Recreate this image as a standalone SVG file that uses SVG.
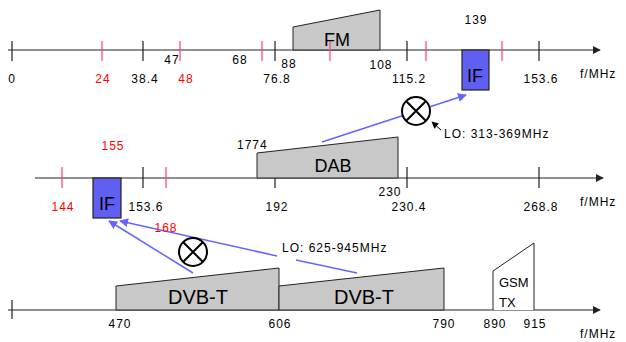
<svg xmlns="http://www.w3.org/2000/svg" width="626" height="342" viewBox="0 0 626 342">
<style>
text{font-family:"Liberation Sans",Arial,sans-serif;font-size:12px;letter-spacing:1px;fill:#000}
.r{fill:#ff0000}
.m{text-anchor:middle}
.big{font-size:18px;letter-spacing:0}
.axis{stroke:#222;stroke-width:1.2;fill:none}
.tk{stroke:#222;stroke-width:1.2}
.pk{stroke:#ff3c82;stroke-width:1.2}
.band{fill:#c8c8c8;stroke:#222;stroke-width:1}
.if{fill:#5f5ff2;stroke:#222;stroke-width:1.2}
.blue{stroke:#6464ff;stroke-width:1.5;fill:none}
.mix{fill:#fff;stroke:#000;stroke-width:2}
</style>
<defs>
<marker id="ah" viewBox="0 0 10 10" refX="9" refY="5" markerWidth="8" markerHeight="8" orient="auto" markerUnits="userSpaceOnUse"><path d="M0,0L10,5L0,10z" fill="#222"/></marker>
<marker id="bh" viewBox="0 0 10 10" refX="9" refY="5" markerWidth="9" markerHeight="9" orient="auto" markerUnits="userSpaceOnUse"><path d="M0,0L10,5L0,10z" fill="#6464ff"/></marker>
<marker id="kh" viewBox="0 0 10 10" refX="9" refY="5" markerWidth="7" markerHeight="7" orient="auto" markerUnits="userSpaceOnUse"><path d="M0,0L10,5L0,10z" fill="#000"/></marker>
</defs>

<!-- Axis 1 -->
<g id="axis1">
<path class="axis" d="M8,50H600" marker-end="url(#ah)"/>
<path class="tk" d="M12,41V61M143,41V61M275,41V61M407,41V61M539,41V61"/>
<path class="pk" d="M102,41V61M180,41V61M262,41V61M426,41V61M502,41V61"/>
<text x="12" y="83" class="m">0</text>
<text x="103" y="83" class="m r">24</text>
<text x="145" y="83" class="m">38.4</text>
<text x="186" y="83" class="m r">48</text>
<text x="172" y="64" class="m">47</text>
<text x="240" y="64" class="m">68</text>
<text x="289" y="68" class="m">88</text>
<text x="277" y="83" class="m">76.8</text>
<text x="381" y="69" class="m">108</text>
<text x="409" y="83" class="m">115.2</text>
<text x="476" y="24" class="m">139</text>
<text x="541" y="83" class="m">153.6</text>
<text x="580" y="78">f/MHz</text>
</g>
<g id="fm">
<path class="band" d="M293,50V27L380,10V50z"/>
<path class="pk" d="M330,41V61"/>
<text x="337" y="46" class="m big">FM</text>
</g>
<g id="if1">
<rect class="if" x="462" y="50" width="27" height="40"/>
<text x="475" y="82" class="m big">IF</text>
</g>

<!-- Axis 2 -->
<g id="axis2">
<path class="axis" d="M35,178H603" marker-end="url(#ah)"/>
<path class="tk" d="M143,167V188M275,178V188M407,167V188M539,167V188"/>
<path class="pk" d="M62,167V188M166,167V188"/>
<text x="113" y="150" class="m r">155</text>
<text x="63" y="211" class="m r">144</text>
<text x="146" y="211" class="m">153.6</text>
<text x="277" y="211" class="m">192</text>
<text x="409" y="211" class="m">230.4</text>
<text x="541" y="211" class="m">268.8</text>
<text x="390" y="196" class="m">230</text>
<text x="237" y="149">1774</text>
<text x="580" y="206">f/MHz</text>
</g>
<g id="dab">
<path class="band" d="M257,178V153L398,137V178z"/>
<text x="333" y="172" class="m big">DAB</text>
</g>
<g id="if2">
<rect class="if" x="93" y="178" width="28" height="40"/>
<text x="107" y="210" class="m big">IF</text>
</g>

<!-- Axis 3 -->
<g id="axis3">
<path class="axis" d="M8,310H600" marker-end="url(#ah)"/>
<path class="tk" d="M12,300V319"/>
<text x="120" y="328" class="m">470</text>
<text x="280" y="328" class="m">606</text>
<text x="444" y="328" class="m">790</text>
<text x="495" y="328" class="m">890</text>
<text x="535" y="328" class="m">915</text>
<text x="580" y="338">f/MHz</text>
</g>
<g id="dvbt1">
<path class="band" d="M116,310V286L279,268V310z"/>
<text x="198" y="304" class="m" style="font-size:20px;letter-spacing:0">DVB-T</text>
</g>
<g id="dvbt2">
<path class="band" d="M279,310V286L444,268V310z"/>
<text x="364" y="304" class="m" style="font-size:20px;letter-spacing:0">DVB-T</text>
</g>
<g id="gsm">
<path d="M493,310V271L534,243V310" fill="#fff" stroke="#222" stroke-width="1"/>
<text x="499" y="287" style="letter-spacing:0;font-size:13px">GSM</text>
<text x="499" y="307" style="letter-spacing:0;font-size:13px">TX</text>
</g>

<!-- Connectors -->
<g id="connectors">
<path class="blue" d="M322,142L466,95" marker-end="url(#bh)"/>
<path class="blue" d="M193,273L109,221" marker-end="url(#bh)"/>
<path class="blue" d="M357,273L296,260"/>
<path class="blue" d="M277,256L120,221" marker-end="url(#bh)"/>
<path d="M441,130L432,122" stroke="#000" stroke-width="1" marker-end="url(#kh)"/>
</g>
<g id="mixer1">
<circle class="mix" cx="416" cy="111" r="14"/>
<path d="M406,101L426,121M426,101L406,121" stroke="#000" stroke-width="2"/>
</g>
<text x="444" y="138">LO: 313-369MHz</text>
<g id="mixer2">
<circle class="mix" cx="193" cy="252" r="14"/>
<path d="M183,242L203,262M203,242L183,262" stroke="#000" stroke-width="2"/>
</g>
<text x="282" y="252">LO: 625-945MHz</text>
<text x="166" y="232" class="m r">168</text>
</svg>
